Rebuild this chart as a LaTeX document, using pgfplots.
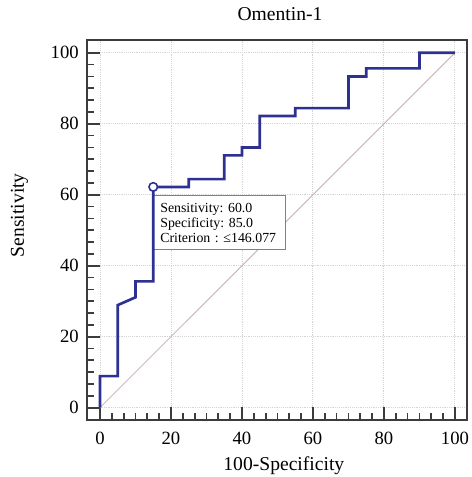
\documentclass[border=0pt]{standalone}
\usepackage{fontspec}
\setmainfont{Liberation Serif}
\usepackage{pgfplots}
\pgfplotsset{compat=1.18}

\definecolor{roc}{RGB}{46,49,146}
\definecolor{diag}{RGB}{205,170,172}
\definecolor{framec}{RGB}{60,60,60}
\definecolor{gridc}{RGB}{212,212,212}

\begin{document}
\frenchspacing
\begin{tikzpicture}
\begin{axis}[
    name=ax,
    scale only axis,
    width=285pt, height=285pt,
    xmin=-3.66, xmax=103.4,
    ymin=-3.47, ymax=103.6,
    xtick={0,20,...,100}, ytick={0,20,...,100},
    minor tick num=5,
    tick align=inside,
    xtick pos=left, ytick pos=left,
    major tick length=9.5pt, minor tick length=5pt,
    every tick/.style={framec, line width=1.3pt},
    axis line style={framec, line width=2pt},
    grid=major,
    major grid style={gridc, densely dotted, line width=0.7pt},
    tick label style={font=\fontsize{14}{16}\selectfont},
    /pgf/number format/assume math mode=true,
    xticklabel style={inner sep=0pt, anchor=north, yshift=-9pt},
    yticklabel style={inner sep=0pt, anchor=east, xshift=-6pt},
    title={Omentin-1},
    title style={at={(axis description cs:0.508,1.029)}, anchor=base, font=\fontsize{14.7}{17}\selectfont},
    xlabel={100-Specificity},
    xlabel style={at={(axis description cs:0.518,-0.1316)}, anchor=base, font=\fontsize{14.7}{17}\selectfont},
    ylabel={Sensitivity},
    ylabel style={at={(axis description cs:-0.1658,0.539)}, anchor=base, font=\fontsize{14.7}{17}\selectfont},
]
% reference line
\addplot[diag, line width=0.6pt] coordinates {(0,0) (100,100)};

% criterion box
\node[draw=gray, line width=0.6pt, fill=white, anchor=north west,
      inner xsep=5pt, inner ysep=5.2pt, text width=88.8pt, align=left,
      font=\fontsize{10.4}{11.25}\selectfont]
  at (axis cs:15,59.8) {Sensitivity: 60.0\\Specificity: 85.0\\Criterion : ≤146.077};

% ROC curve
\addplot[roc, line width=2pt, line join=miter] coordinates {
  (0,0) (0,8.9) (5,8.9) (5,28.9) (10,31.1) (10,35.6) (15,35.6) (15,62.2)
  (25,62.2) (25,64.4) (35,64.4) (35,71.1) (40,71.1) (40,73.3) (45,73.3)
  (45,82.2) (55,82.2) (55,84.4) (70,84.4) (70,93.3) (75,93.3) (75,95.6)
  (90,95.6) (90,100) (100,100)
};

% optimal criterion point
\addplot[only marks, mark=*, mark size=3.2pt,
         mark options={fill=white, draw=roc, line width=1.2pt}]
  coordinates {(15,62.2)};
\end{axis}
\pgfresetboundingbox
\path ([xshift=-65.25pt, yshift=-42.75pt]ax.south west) rectangle ([xshift=3pt, yshift=30pt]ax.north east);
\end{tikzpicture}
\end{document}
